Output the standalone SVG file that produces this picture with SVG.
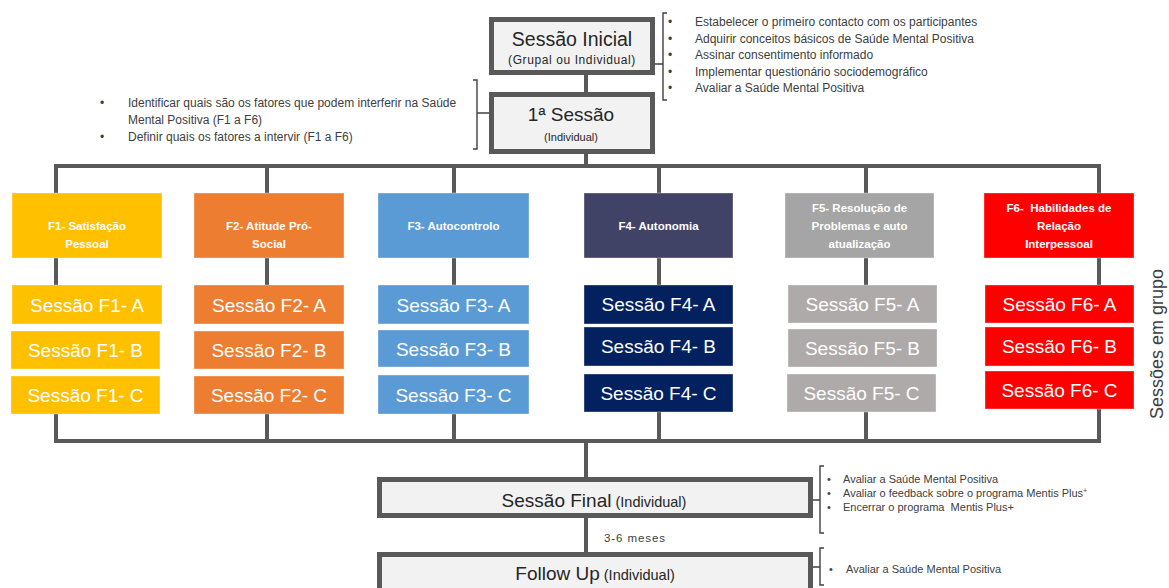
<svg xmlns="http://www.w3.org/2000/svg" width="1169" height="588" viewBox="0 0 1169 588">
  <style>
    .wire { fill: none; stroke: #595959; stroke-width: 4; stroke-linecap: square; }
    .brace { fill: none; stroke: #404040; stroke-width: 1.4; }
    .stage { fill: #f2f2f2; stroke: #595959; stroke-width: 5; }
    .stage-t { font-family: "Liberation Sans", Arial, sans-serif; fill: #262626; text-anchor: middle; }
    .note { font-family: "Liberation Sans", Arial, sans-serif; font-size: 12px; fill: #404040; }
    .note-s { font-family: "Liberation Sans", Arial, sans-serif; font-size: 11px; fill: #404040; }
    .hdr { font-family: "Liberation Sans", Arial, sans-serif; font-size: 11.5px; font-weight: bold; fill: #ffffff; text-anchor: middle; }
    .ses { font-family: "Liberation Sans", Arial, sans-serif; font-size: 19px; fill: #ffffff; text-anchor: middle; }
    .box { stroke: #ffffff; stroke-opacity: 0.35; stroke-width: 1; }
    .f1 { fill: #ffc000; }
    .f2 { fill: #ed7d31; }
    .f3 { fill: #5b9bd5; }
    .f4h { fill: #414366; }
    .f4 { fill: #04215f; }
    .f5h { fill: #a5a5a5; }
    .f5 { fill: #aeaaaa; }
    .f6 { fill: #ff0000; }
  </style>

  <!-- connectors -->
  <g id="connectors">
    <line class="wire" x1="586" y1="75" x2="586" y2="92"/>
    <line class="wire" x1="586" y1="154" x2="586" y2="166"/>
    <!-- distribution bar to the six factors -->
    <polyline class="wire" points="56,193 56,166 1099,166 1099,193"/>
    <line class="wire" x1="267" y1="166" x2="267" y2="193"/>
    <line class="wire" x1="454" y1="166" x2="454" y2="193"/>
    <line class="wire" x1="659" y1="166" x2="659" y2="193"/>
    <line class="wire" x1="866" y1="166" x2="866" y2="193"/>
    <!-- header to first session -->
    <line class="wire" x1="56" y1="258" x2="56" y2="285"/>
    <line class="wire" x1="267" y1="258" x2="267" y2="285"/>
    <line class="wire" x1="454" y1="258" x2="454" y2="285"/>
    <line class="wire" x1="659" y1="258" x2="659" y2="285"/>
    <line class="wire" x1="866" y1="258" x2="866" y2="285"/>
    <line class="wire" x1="1099" y1="258" x2="1099" y2="285"/>
    <!-- collecting bar -->
    <polyline class="wire" points="56,414 56,441 1099,441 1099,409"/>
    <line class="wire" x1="267" y1="414" x2="267" y2="441"/>
    <line class="wire" x1="454" y1="414" x2="454" y2="441"/>
    <line class="wire" x1="659" y1="412" x2="659" y2="441"/>
    <line class="wire" x1="866" y1="412" x2="866" y2="441"/>
    <line class="wire" x1="586" y1="441" x2="586" y2="477"/>
    <line class="wire" x1="586" y1="518" x2="586" y2="552"/>
  </g>

  <!-- Sessão Inicial -->
  <g id="sessao-inicial">
    <rect class="stage" x="491.5" y="19.5" width="161" height="53"/>
    <text class="stage-t" x="572" y="45.5" font-size="19.5">Sessão Inicial</text>
    <text class="stage-t" x="572" y="64" font-size="12" letter-spacing="0.6">(Grupal ou Individual)</text>
  </g>
  <g id="sessao-inicial-notas">
    <path class="brace" d="M655,64 H663 M667,13 H663 V100 H667"/>
    <g class="note">
      <text x="668" y="26">•</text><text x="695" y="26">Estabelecer o primeiro contacto com os participantes</text>
      <text x="668" y="42.6">•</text><text x="695" y="42.6">Adquirir conceitos básicos de Saúde Mental Positiva</text>
      <text x="668" y="59.2">•</text><text x="695" y="59.2">Assinar consentimento informado</text>
      <text x="668" y="75.8">•</text><text x="695" y="75.8">Implementar questionário sociodemográfico</text>
      <text x="668" y="92.4">•</text><text x="695" y="92.4">Avaliar a Saúde Mental Positiva</text>
    </g>
  </g>

  <!-- 1ª Sessão -->
  <g id="primeira-sessao">
    <rect class="stage" x="491.5" y="94.5" width="161" height="57"/>
    <text class="stage-t" x="571" y="120.5" font-size="19">1ª Sessão</text>
    <text class="stage-t" x="571" y="141" font-size="11">(Individual)</text>
  </g>
  <g id="primeira-sessao-notas">
    <path class="brace" d="M489,113 H477 M473,80 H477 V149 H473"/>
    <g class="note">
      <text x="100" y="107">•</text><text x="128" y="107">Identificar quais são os fatores que podem interferir na Saúde</text>
      <text x="128" y="124">Mental Positiva (F1 a F6)</text>
      <text x="100" y="140.5">•</text><text x="128" y="140.5">Definir quais os fatores a intervir (F1 a F6)</text>
    </g>
  </g>

  <!-- F1 -->
  <g id="f1">
    <rect class="box f1" x="12" y="193" width="150" height="65"/>
    <text class="hdr" x="87" y="230">F1- Satisfação</text>
    <text class="hdr" x="87" y="248">Pessoal</text>
    <rect class="box f1" x="12" y="285" width="150" height="39"/>
    <text class="ses" x="87" y="311.5">Sessão F1- A</text>
    <rect class="box f1" x="11" y="331" width="149" height="38"/>
    <text class="ses" x="85.5" y="357">Sessão F1- B</text>
    <rect class="box f1" x="11" y="376" width="149" height="38"/>
    <text class="ses" x="85.5" y="402">Sessão F1- C</text>
  </g>

  <!-- F2 -->
  <g id="f2">
    <rect class="box f2" x="194" y="193" width="150" height="65"/>
    <text class="hdr" x="269" y="230">F2- Atitude Pró-</text>
    <text class="hdr" x="269" y="248">Social</text>
    <rect class="box f2" x="194" y="285" width="150" height="39"/>
    <text class="ses" x="269" y="311.5">Sessão F2- A</text>
    <rect class="box f2" x="194" y="331" width="150" height="38"/>
    <text class="ses" x="269" y="357">Sessão F2- B</text>
    <rect class="box f2" x="194" y="376" width="150" height="38"/>
    <text class="ses" x="269" y="402">Sessão F2- C</text>
  </g>

  <!-- F3 -->
  <g id="f3">
    <rect class="box f3" x="378" y="193" width="151" height="65"/>
    <text class="hdr" x="453.5" y="230">F3- Autocontrolo</text>
    <rect class="box f3" x="378" y="285" width="151" height="39"/>
    <text class="ses" x="453.5" y="311.5">Sessão F3- A</text>
    <rect class="box f3" x="378" y="330" width="151" height="37"/>
    <text class="ses" x="453.5" y="355.5">Sessão F3- B</text>
    <rect class="box f3" x="378" y="375" width="151" height="39"/>
    <text class="ses" x="453.5" y="401.5">Sessão F3- C</text>
  </g>

  <!-- F4 -->
  <g id="f4">
    <rect class="box f4h" x="584" y="193" width="149" height="65"/>
    <text class="hdr" x="658.5" y="230">F4- Autonomia</text>
    <rect class="box f4" x="584" y="285" width="149" height="39"/>
    <text class="ses" x="658.5" y="311">Sessão F4- A</text>
    <rect class="box f4" x="584" y="327" width="149" height="39"/>
    <text class="ses" x="658.5" y="353">Sessão F4- B</text>
    <rect class="box f4" x="584" y="374" width="149" height="38"/>
    <text class="ses" x="658.5" y="400">Sessão F4- C</text>
  </g>

  <!-- F5 -->
  <g id="f5">
    <rect class="box f5h" x="785" y="193" width="149" height="65"/>
    <text class="hdr" x="859.5" y="212">F5- Resolução de</text>
    <text class="hdr" x="859.5" y="230">Problemas e auto</text>
    <text class="hdr" x="859.5" y="248">atualização</text>
    <rect class="box f5" x="788" y="285" width="149" height="38"/>
    <text class="ses" x="862.5" y="311">Sessão F5- A</text>
    <rect class="box f5" x="788" y="329" width="149" height="38"/>
    <text class="ses" x="862.5" y="355">Sessão F5- B</text>
    <rect class="box f5" x="787" y="374" width="149" height="38"/>
    <text class="ses" x="861.5" y="400">Sessão F5- C</text>
  </g>

  <!-- F6 -->
  <g id="f6">
    <rect class="box f6" x="984" y="193" width="150" height="65"/>
    <text class="hdr" x="1059" y="212" xml:space="preserve">F6-  Habilidades de</text>
    <text class="hdr" x="1059" y="230">Relação</text>
    <text class="hdr" x="1059" y="248">Interpessoal</text>
    <rect class="box f6" x="985" y="285" width="149" height="38"/>
    <text class="ses" x="1059.5" y="311">Sessão F6- A</text>
    <rect class="box f6" x="985" y="327" width="149" height="39"/>
    <text class="ses" x="1059.5" y="353">Sessão F6- B</text>
    <rect class="box f6" x="985" y="371" width="149" height="38"/>
    <text class="ses" x="1059.5" y="397">Sessão F6- C</text>
  </g>

  <!-- side label for the group sessions -->
  <text id="label-grupo" transform="translate(1163,344) rotate(-90)" font-family="'Liberation Sans', Arial, sans-serif" font-size="18" fill="#404040" text-anchor="middle">Sessões em grupo</text>

  <!-- Sessão Final -->
  <g id="sessao-final">
    <rect class="stage" x="379.5" y="479.5" width="431" height="36"/>
    <text class="stage-t" x="594" y="507"><tspan font-size="19">Sessão Final</tspan><tspan font-size="14.5"> (Individual)</tspan></text>
  </g>
  <g id="sessao-final-notas">
    <path class="brace" d="M813,500 H820 M824,466 H820 V533 H824"/>
    <g class="note-s">
      <text x="827" y="483">•</text><text x="843" y="483">Avaliar a Saúde Mental Positiva</text>
      <text x="827" y="497">•</text><text x="843" y="497">Avaliar o feedback sobre o programa Mentis Plus<tspan font-size="7" dy="-4">+</tspan></text>
      <text x="827" y="511">•</text><text x="843" y="511" xml:space="preserve">Encerrar o programa  Mentis Plus+</text>
    </g>
  </g>

  <text id="intervalo" x="604" y="542" font-family="'Liberation Sans', Arial, sans-serif" font-size="11.5" fill="#404040" textLength="61">3-6 meses</text>

  <!-- Follow Up -->
  <g id="follow-up">
    <rect class="stage" x="379.5" y="554.5" width="431" height="50"/>
    <text class="stage-t" x="595" y="580"><tspan font-size="19">Follow Up</tspan><tspan font-size="14.5"> (Individual)</tspan></text>
  </g>
  <g id="follow-up-notas">
    <path class="brace" d="M813,567 H820 M824,548 H820 V585 H824"/>
    <g class="note-s">
      <text x="829" y="573">•</text><text x="846" y="573">Avaliar a Saúde Mental Positiva</text>
    </g>
  </g>
</svg>
